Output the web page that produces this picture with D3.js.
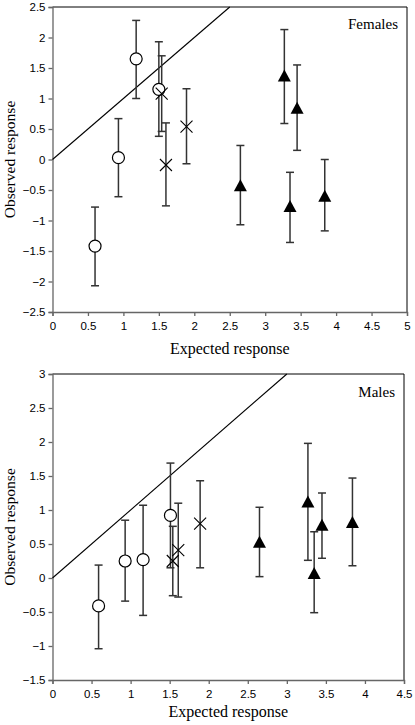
<!DOCTYPE html>
<html><head><meta charset="utf-8">
<script src="https://cdn.jsdelivr.net/npm/d3@7"></script>
<style>body{margin:0;background:#fff}svg{display:block}</style>
</head><body>
<script>
// Females
const fCircleX = [0.60, 0.93, 1.18, 1.50];
const fCircleY = [-1.42, 0.03, 1.65, 1.15];
const fCircleLo = [-2.07, -0.61, 1.00, 0.38];
const fCircleHi = [-0.78, 0.67, 2.28, 1.93];
const fCrossX = [1.54, 1.60, 1.89];
const fCrossY = [1.08, -0.09, 0.54];
const fCrossLo = [0.46, -0.76, -0.07];
const fCrossHi = [1.70, 0.60, 1.16];
const fTriX = [2.65, 3.27, 3.45, 3.35, 3.84];
const fTriY = [-0.44, 1.36, 0.83, -0.78, -0.61];
const fTriLo = [-1.07, 0.59, 0.15, -1.36, -1.17];
const fTriHi = [0.23, 2.13, 1.55, -0.21, 0.00];
// Males
const mCircleX = [0.59, 0.93, 1.16, 1.51];
const mCircleY = [-0.41, 0.25, 0.27, 0.92];
const mCircleLo = [-1.04, -0.34, -0.55, 0.15];
const mCircleHi = [0.19, 0.85, 1.07, 1.69];
const mCrossX = [1.54, 1.61, 1.89];
const mCrossY = [0.25, 0.41, 0.80];
const mCrossLo = [-0.26, -0.28, 0.15];
const mCrossHi = [0.76, 1.10, 1.43];
const mTriX = [2.65, 3.27, 3.35, 3.45, 3.84];
const mTriY = [0.52, 1.11, 0.06, 0.77, 0.81];
const mTriLo = [0.02, 0.26, -0.51, 0.29, 0.18];
const mTriHi = [1.04, 1.98, 0.68, 1.25, 1.47];

const fXTicks = [0,0.5,1,1.5,2,2.5,3,3.5,4,4.5,5];
const fYTicks = [-2.5,-2,-1.5,-1,-0.5,0,0.5,1,1.5,2,2.5];
const mXTicks = [0,0.5,1,1.5,2,2.5,3,3.5,4,4.5];
const mYTicks = [-1.5,-1,-0.5,0,0.5,1,1.5,2,2.5,3];

const svg = d3.select("body").append("svg").attr("width",415).attr("height",725);

function zip(xs, ys, lo, hi){ return xs.map((x,i)=>({x, y:ys[i], lo:lo[i], hi:hi[i]})); }

function panel(cfg){
  const g = svg.append("g");
  const x = d3.scaleLinear().domain(cfg.xDom).range([cfg.left, cfg.right]);
  const y = d3.scaleLinear().domain(cfg.yDom).range([cfg.bottom, cfg.top]);
  g.append("line").attr("x1",cfg.left).attr("x2",cfg.right).attr("y1",cfg.top).attr("y2",cfg.top).attr("stroke","#000").attr("stroke-width",1);
  g.append("line").attr("x1",cfg.right).attr("x2",cfg.right).attr("y1",cfg.top).attr("y2",cfg.bottom).attr("stroke","#000").attr("stroke-width",1);
  const fmt = d => d3.format("")(d);
  const ya = g.append("g").attr("transform",`translate(${cfg.left},0)`)
    .call(d3.axisLeft(y).tickValues(cfg.yTicks).tickSize(4).tickPadding(3).tickFormat(fmt));
  const xa = g.append("g").attr("transform",`translate(0,${cfg.bottom})`)
    .call(d3.axisBottom(x).tickValues(cfg.xTicks).tickSize(4).tickPadding(6).tickFormat(fmt));
  [ya, xa].forEach(a=>{
    a.selectAll("path,line").attr("stroke","#666").attr("stroke-width",1.3);
    a.selectAll("text").attr("font-family","Liberation Sans, Arial, sans-serif").attr("font-size",11.5).attr("fill","#000");
  });
  const lim = Math.min(cfg.xDom[1], cfg.yDom[1]);
  g.append("line").attr("x1",x(0)).attr("y1",y(0)).attr("x2",x(lim)).attr("y2",y(lim))
    .attr("stroke","#000").attr("stroke-width",1.1);
  const all = [].concat(cfg.circles, cfg.crosses, cfg.tris);
  const eb = g.append("g").attr("stroke","#333").attr("stroke-width",1.5).attr("fill","none");
  all.forEach(d=>{
    eb.append("line").attr("x1",x(d.x)).attr("x2",x(d.x)).attr("y1",y(d.lo)).attr("y2",y(d.hi));
    [d.lo,d.hi].forEach(v=>eb.append("line").attr("x1",x(d.x)-4).attr("x2",x(d.x)+4).attr("y1",y(v)).attr("y2",y(v)));
  });
  g.selectAll(".c").data(cfg.circles).enter().append("circle")
    .attr("cx",d=>x(d.x)).attr("cy",d=>y(d.y)).attr("r",6)
    .attr("fill","#fff").attr("stroke","#000").attr("stroke-width",1.2);
  const cs = 6;
  cfg.crosses.forEach(d=>{
    const cx=x(d.x), cy=y(d.y);
    g.append("path").attr("d",`M${cx-cs},${cy-cs}L${cx+cs},${cy+cs}M${cx-cs},${cy+cs}L${cx+cs},${cy-cs}`)
      .attr("stroke","#000").attr("stroke-width",1.1).attr("fill","none");
  });
  g.selectAll(".t").data(cfg.tris).enter().append("path")
    .attr("d",d=>{const cx=x(d.x), cy=y(d.y); return `M${cx},${cy-7}L${cx+6.5},${cy+5}L${cx-6.5},${cy+5}Z`;})
    .attr("fill","#000");
  g.append("text").attr("x",(cfg.left+cfg.right)/2).attr("y",cfg.bottom+cfg.titleOff).attr("text-anchor","middle")
    .attr("font-family","Liberation Serif, Times New Roman, serif").attr("font-size",16).text("Expected response");
  g.append("text").attr("transform",`translate(15,${(cfg.top+cfg.bottom)/2}) rotate(-90)`).attr("text-anchor","middle")
    .attr("font-family","Liberation Serif, Times New Roman, serif").attr("font-size",15.5).text("Observed response");
  g.append("text").attr("x",cfg.labelX).attr("y",cfg.labelY).attr("text-anchor","end")
    .attr("font-family","Liberation Serif, Times New Roman, serif").attr("font-size",15).text(cfg.label);
}

panel({xDom:[0,5], yDom:[-2.5,2.5], left:52.5, right:407, top:7, bottom:312,
  xTicks:fXTicks, yTicks:fYTicks, titleOff:42,
  circles:zip(fCircleX,fCircleY,fCircleLo,fCircleHi),
  crosses:zip(fCrossX,fCrossY,fCrossLo,fCrossHi),
  tris:zip(fTriX,fTriY,fTriLo,fTriHi),
  label:"Females", labelX:398, labelY:29});

panel({xDom:[0,4.5], yDom:[-1.5,3], left:52.5, right:404, top:374, bottom:680,
  xTicks:mXTicks, yTicks:mYTicks, titleOff:37,
  circles:zip(mCircleX,mCircleY,mCircleLo,mCircleHi),
  crosses:zip(mCrossX,mCrossY,mCrossLo,mCrossHi),
  tris:zip(mTriX,mTriY,mTriLo,mTriHi),
  label:"Males", labelX:395, labelY:397});
</script>
</body></html>
